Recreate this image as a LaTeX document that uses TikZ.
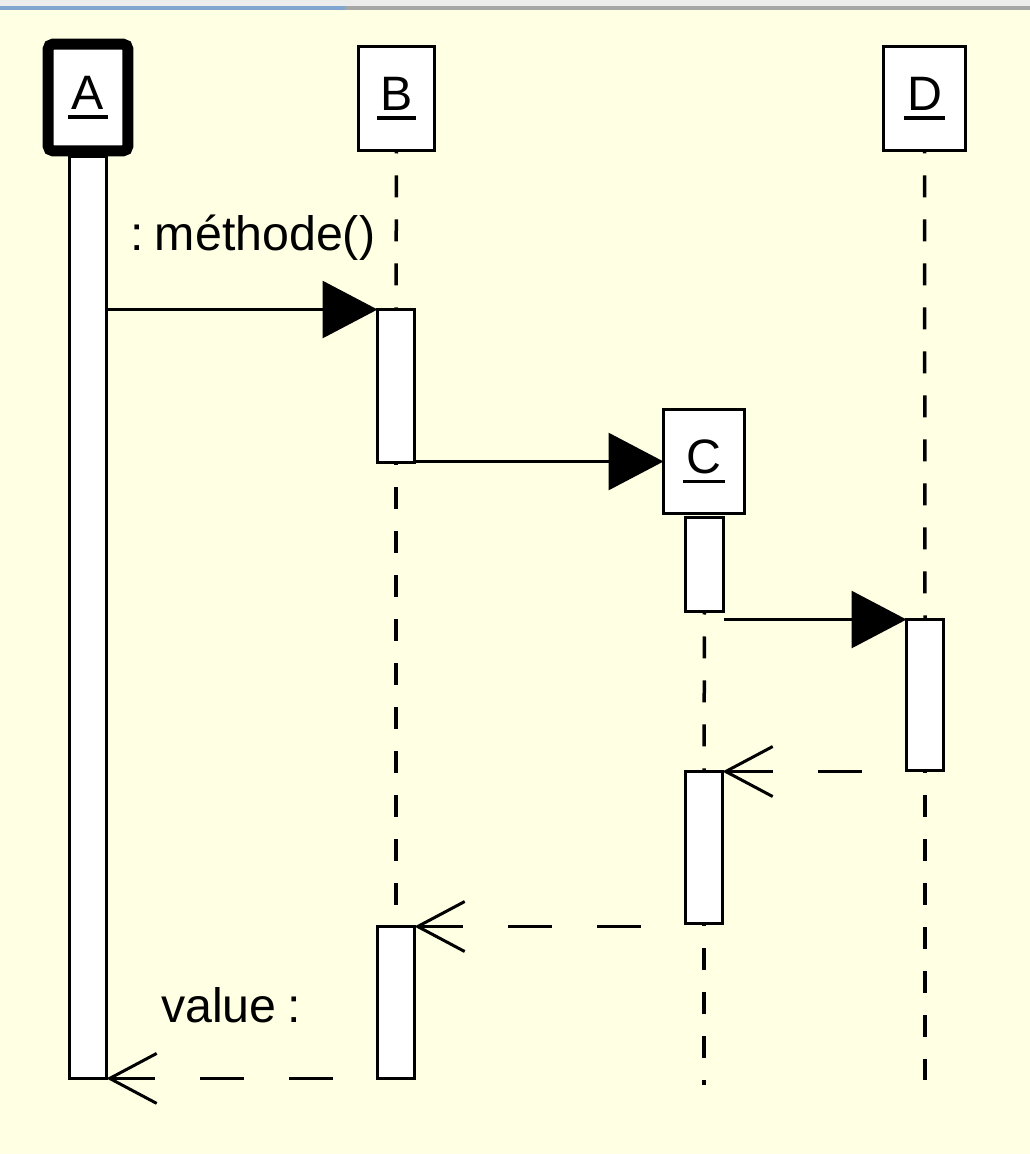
\documentclass[tikz,border=0pt]{standalone}
\usepackage{fontspec}
\setmainfont{Liberation Sans}
\usetikzlibrary{arrows.meta}
\definecolor{paper}{RGB}{255,255,228}
\definecolor{bar}{RGB}{236,236,236}
\definecolor{tabline}{RGB}{128,166,208}
\newcommand\ulname[1]{\setbox0\hbox{\kern2pt#1\kern2pt}%
  \vtop{\copy0\kern3.2pt\hrule height 1.8pt width \wd0}}
\begin{document}
\begin{tikzpicture}[x=0.02cm,y=-0.02cm,line cap=butt,line join=miter,
  every node/.style={inner sep=0pt,outer sep=0pt},
  lbl/.style={font=\fontsize{27.5}{30}\selectfont},
  obj/.style={draw,fill=white,line width=0.06cm,minimum height=2.08cm,lbl},
  act/.style={draw,fill=white,line width=0.06cm,minimum width=0.74cm},
  life/.style={line width=0.07cm,dash pattern=on 0.44cm off 0.44cm,dash phase=0.38cm},
  call/.style={line width=0.06cm,-{Triangle[length=1.1cm,width=1.14cm]}},
  back/.style={line width=0.06cm,dash pattern=on 0.88cm off 0.9cm,dash phase=0.88cm,
    -{Straight Barb[length=0.94cm,width=1cm]}}]
  \useasboundingbox (0,0) rectangle (1030,1154);
  \fill[paper] (0,0) rectangle (1030,1154);
  \fill[bar] (0,0) rectangle (1030,6);
  \draw[line width=0.08cm,gray!70] (345,8) -- (1030,8);
  \draw[line width=0.08cm,tabline] (0,8) -- (345,8);
  % objects
  \node[obj,minimum width=1.6cm,minimum height=2.14cm,line width=0.22cm,rounded corners=3pt] (boxA) at (88,97.5) {\ulname{A}};
  \node[obj,minimum width=1.52cm] (boxB) at (396.5,98.5) {\ulname{B}};
  \node[obj,minimum width=1.64cm] (boxD) at (924.5,98.5) {\ulname{D}};
  \node[obj,minimum width=1.62cm] (boxC) at (704,461.5) {\ulname{C}};
  % activations
  \node[act,minimum height=18.44cm] (aA) at (88,617.5) {};
  \node[act,minimum height=3.06cm] (b1) at (396,386) {};
  \node[act,minimum height=3.04cm] (b2) at (396,1002.5) {};
  \node[act,minimum height=1.88cm,minimum width=0.76cm] (c1) at (704.5,564.5) {};
  \node[act,minimum height=3.04cm] (c2) at (704,847.5) {};
  \node[act,minimum height=3.02cm] (d1) at (925,695) {};
  \coordinate (endC) at (704,1085);
  \coordinate (endD) at (925,1080);
  % lifelines
  \draw[life] (boxB.south) -- (b1.north);
  \draw[life] (b1.south) -- (b2.north);
  \draw[life] (c1.south) -- (c2.north);
  \draw[life] (c2.south) -- (endC);
  \draw[life] (boxD.south) -- (d1.north);
  \draw[life] (d1.south) -- (endD);
  % messages
  \draw[call] (b1.north west -| aA.east) -- (b1.north west);
  \draw[call] (boxC.west -| b1.east) -- (boxC.west);
  \draw[call] (d1.north west -| c1.east) -- (d1.north west);
  \draw[back] (c2.north east -| d1.west) -- (c2.north east);
  \draw[back] (b2.north east -| c2.west) -- (b2.north east);
  \draw[back] (aA.south east -| b2.west) -- (aA.south east);
  \node[lbl] (meth) at (253,238) {:\hspace{0.22em}méthode()};
  \node[lbl] (val) at (231,1005) {value\hspace{0.22em}:};
\end{tikzpicture}
\end{document}
